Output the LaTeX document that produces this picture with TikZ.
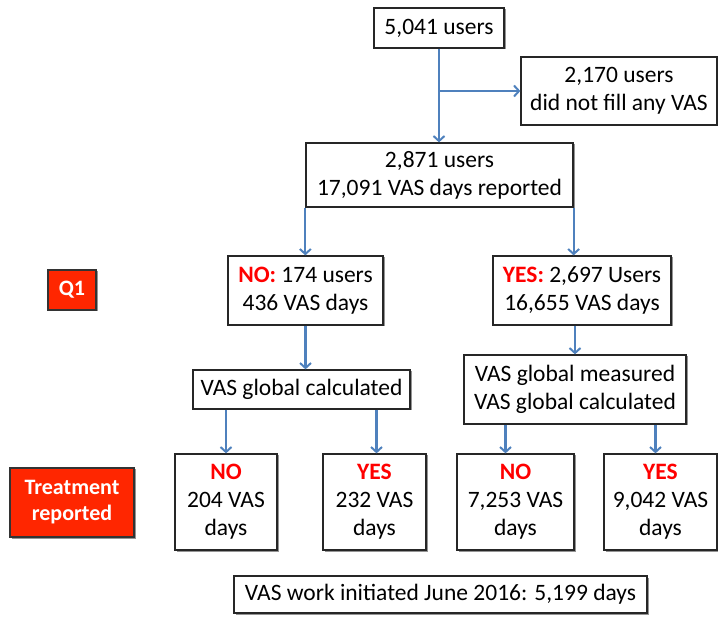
\documentclass[tikz,border=0pt]{standalone}
\usepackage{fontspec}
\setmainfont{Carlito}
\usetikzlibrary{arrows.meta,shadows}
\definecolor{arrowblue}{HTML}{4F81BD}
\definecolor{boxred}{HTML}{FF2600}
\definecolor{txtred}{HTML}{FF0000}
\begin{document}
\begin{tikzpicture}[x=1pt,y=-1pt,
  box/.style={draw=black!85, line width=1.3pt, fill=white, align=center, inner sep=0pt,
    font=\fontsize{23.5}{28}\selectfont,
    drop shadow={shadow xshift=1.5pt, shadow yshift=-1.5pt, fill=black!60, opacity=0.7}},
  redbox/.style={draw=black!80, line width=1.2pt, fill=boxred, text=white, align=center, inner sep=0pt,
    font=\fontsize{22}{26}\selectfont\bfseries,
    drop shadow={shadow xshift=1.5pt, shadow yshift=-1.5pt, fill=black!60, opacity=0.7}},
  arr/.style={draw=arrowblue, line width=2.1pt, -{Straight Barb[length=5pt,width=11pt,line width=2pt]}}]
\useasboundingbox (0,0) rectangle (718,617);
\newcommand{\hl}[1]{\textcolor{txtred}{\bfseries #1}}
% nodes
\node[box, minimum width=130pt, minimum height=40pt] (u5041) at (439,28) {5,041 users};
\node[box, minimum width=196pt, minimum height=68pt] (u2170) at (619,91) {2,170 users\\did not fill any VAS};
\node[box, minimum width=267pt, minimum height=64pt] (u2871) at (439.5,175) {2,871 users\\17,091 VAS days reported};
\node[redbox, minimum width=48pt, minimum height=40pt] (q1) at (72,290) {Q1};
\node[box, minimum width=155pt, minimum height=69pt] (no174) at (305.5,290.5) {\hl{NO:} 174 users\\436 VAS days};
\node[box, minimum width=178pt, minimum height=69pt] (yes2697) at (582,290.5) {\hl{YES:} 2,697 Users\\16,655 VAS days};
\node[box, minimum width=217pt, minimum height=39pt] (calc) at (301.5,389.5) {VAS global calculated};
\node[box, minimum width=222pt, minimum height=69pt] (meas) at (575,389.5) {VAS global measured\\VAS global calculated};
\node[redbox, minimum width=124pt, minimum height=69pt] (treat) at (72,502.5) {Treatment\\reported};
\node[box, minimum width=102pt, minimum height=96pt] (no204) at (226,502) {\hl{NO}\\204 VAS\\days};
\node[box, minimum width=103pt, minimum height=96pt] (yes232) at (374.5,502) {\hl{YES}\\232 VAS\\days};
\node[box, minimum width=117pt, minimum height=96pt] (no7253) at (515.5,502) {\hl{NO}\\7,253 VAS\\days};
\node[box, minimum width=113pt, minimum height=96pt] (yes9042) at (660.5,502) {\hl{YES}\\9,042 VAS\\days};
\node[box, minimum width=413pt, minimum height=37pt] (bottom) at (440.5,594.5) {VAS work initiated June 2016: 5,199 days};
% connectors
\draw[arr] (u5041.south) -- (u5041.south |- u2871.north);
\draw[arr] (u5041.south |- u2170.west) -- (u2170.west);
\draw[arr] (u2871.south west) -- (u2871.south west |- no174.north);
\draw[arr] (u2871.south east) -- (u2871.south east |- yes2697.north);
\draw[arr] (no174.south) -- (no174.south |- calc.north);
\draw[arr] (meas.north |- yes2697.south) -- (meas.north);
\draw[arr] (no204.north |- calc.south) -- (no204.north);
\draw[arr] ([xshift=2pt]yes232.north |- calc.south) -- ([xshift=2pt]yes232.north);
\draw[arr] ([xshift=-10pt]no7253.north |- meas.south) -- ([xshift=-10pt]no7253.north);
\draw[arr] ([xshift=-5pt]yes9042.north |- meas.south) -- ([xshift=-5pt]yes9042.north);
\end{tikzpicture}
\end{document}
